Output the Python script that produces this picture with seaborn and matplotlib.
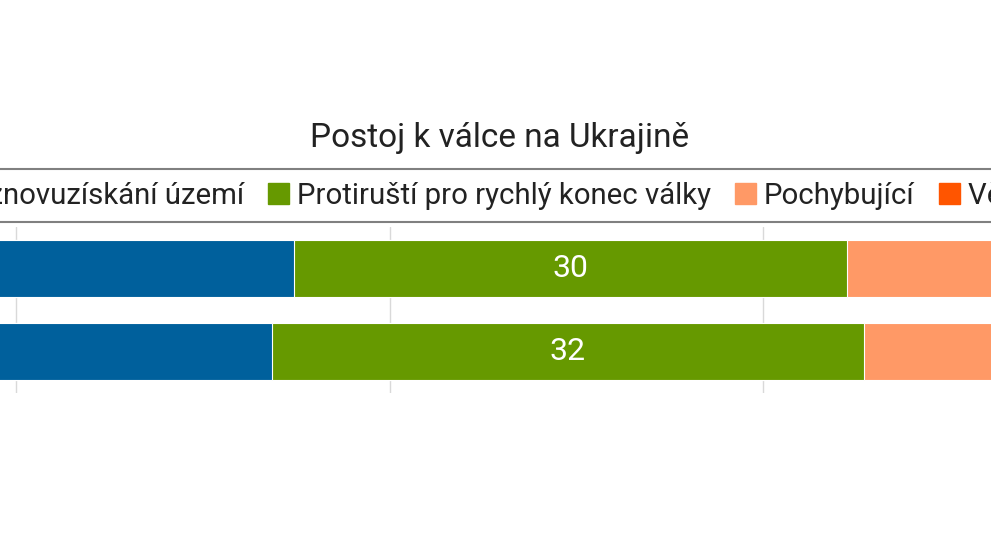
import numpy as np
import pandas as pd
import seaborn as sns
import matplotlib.pyplot as plt
from matplotlib.patches import Patch

# data
obdobi = ["2023", "2024"]
proukrajinsti = [34.9, 33.7]
protirusti = [29.6, 31.7]
pochybujici = [21.0, 20.0]
verici = [14.5, 14.6]
skupiny = ["Proukrajinští pro znovuzískání území", "Protiruští pro rychlý konec války",
           "Pochybující", "Věřící ruské propagandě"]
barvy = ["#00609C", "#669900", "#FF9966", "#FF5500"]

sns.set_style("white")
plt.rcParams["font.family"] = ["Roboto", "DejaVu Sans"]

df = pd.DataFrame(dict(zip(skupiny, [proukrajinsti, protirusti, pochybujici, verici])), index=obdobi)
cum = df.cumsum(axis=1)

fig = plt.figure(figsize=(9.91, 5.58), dpi=100)
# the chart is wider than the picture, so the axes run past both edges
ax = fig.add_axes([-357.5 / 991, 165 / 558, 1867.5 / 991, 166 / 558])

# stacked bars: draw cumulative totals from the last group backwards
for col, c in reversed(list(zip(skupiny, barvy))):
    sns.barplot(x=cum[col].values, y=obdobi, color=c, orient="h", width=0.69, saturation=1,
                edgecolor="white", linewidth=0.8, ax=ax, zorder=2)

# value labels - only the green segment sits inside the visible part
for i in range(len(obdobi)):
    v = protirusti[i]
    ax.text(proukrajinsti[i] + v / 2, i, f"{v:.0f}", ha="center", va="center",
            color="white", fontsize=23, zorder=3)

ax.set_xlim(0, 100)
ax.set_ylim(1.5, -0.5)
ax.set_xticks([0, 20, 40, 60, 80, 100])
ax.grid(axis="x", color="#d9d9d9", linewidth=1)
ax.set_axisbelow(True)
ax.tick_params(length=0, labelbottom=False, labelleft=False)
ax.set_xlabel("")
ax.set_ylabel("")
sns.despine(ax=ax, left=True, bottom=True)

fig.text(500 / 991, 1 - 147 / 558, "Postoj k válce na Ukrajině", ha="center",
         va="baseline", fontsize=24, color="#222222")

handles = [Patch(facecolor=c, edgecolor=c) for c in barvy]
leg = fig.legend(handles, skupiny, loc="center", bbox_to_anchor=(0.5, 1 - 195.5 / 558), ncol=4,
                 fontsize=21.2, frameon=True, fancybox=False, edgecolor="#808080", framealpha=1,
                 borderpad=0.42, handlelength=0.7, handleheight=0.7, handletextpad=0.27,
                 columnspacing=0.83, labelcolor="#222222")
leg.get_frame().set_linewidth(1.5)

# shift legend so the green entry lands where it is in the original
fig.canvas.draw()
x0 = leg.get_texts()[1].get_window_extent().x0
dx = (297 - x0) / fig.bbox.width
leg.set_bbox_to_anchor((0.5 + dx, 1 - 195.5 / 558), transform=fig.transFigure)

plt.savefig("out.png", dpi=100)
